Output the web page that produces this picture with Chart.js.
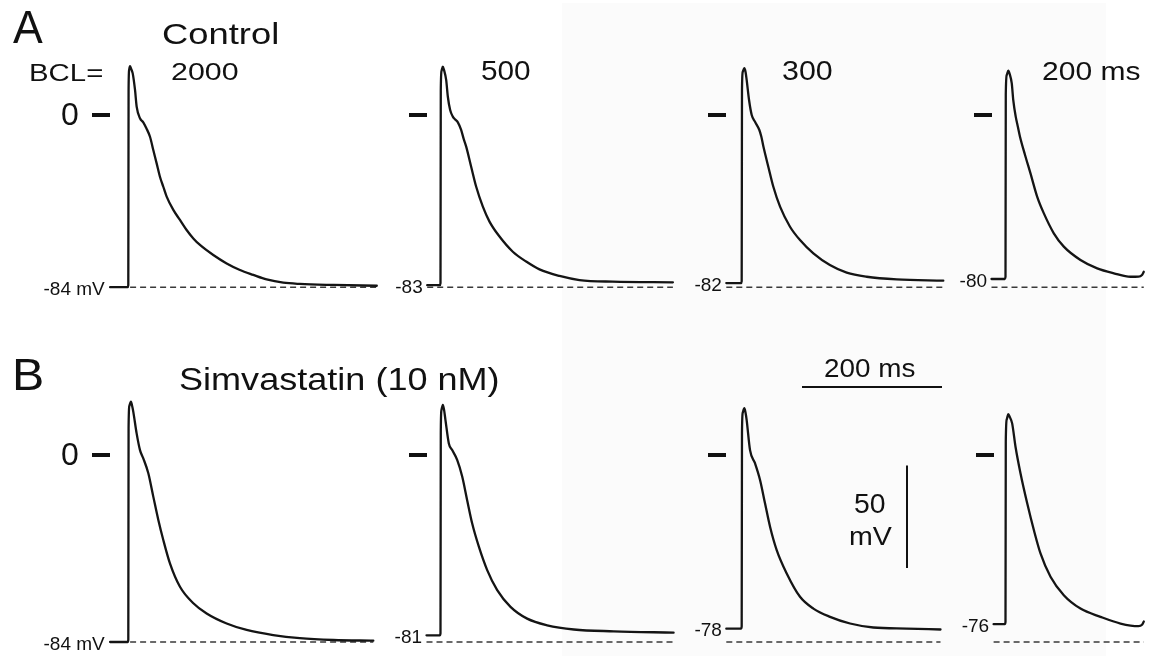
<!DOCTYPE html>
<html><head><meta charset="utf-8">
<script src="https://cdn.jsdelivr.net/npm/chart.js@4.4.1/dist/chart.umd.min.js"></script>
<style>
html,body{margin:0;padding:0;background:#fff;}
#wrap{position:relative;width:1152px;height:656px;overflow:hidden;background:#fff;font-family:"Liberation Sans",Arial,Helvetica,sans-serif;color:#111;}
#shade{position:absolute;left:562px;top:3px;width:544px;height:653px;background:#fbfbfb;}
#c{position:absolute;left:0;top:0;}
.lbl{position:absolute;white-space:nowrap;transform-origin:0 0;line-height:1;margin:0;padding:0;}
</style></head><body>
<div id="wrap"><div id="shade"></div><canvas id="c" width="1152" height="656"></canvas></div>
<script>
// ---------------- DATA (time in ms from upstroke, membrane potential in mV) ----------------
const panelLetters = ['A', 'B'];
const conditions = ['Control', 'Simvastatin (10 nM)'];
const bclPrefix = 'BCL=';
const bclLabels = ['2000', '500', '300', '200 ms'];
const restControl = [-84, -83, -82, -80];
const restSimva = [-84, -81, -78, -76];
const restUnit = ' mV';
const zeroLabel = '0';
const referenceMv = -84;
const scaleBarMs = 200;
const scaleBarMv = 50;
const scaleBarMsLabel = '200 ms';
const scaleBarMvLabel = ['50', 'mV'];

const ctrl2000 = [[-26,-84],[-1,-84],[0,-83],[0.4,12],[1.2,22],[2.4,23.8],[4,22.6],[6.3,20.3],[9.6,12.2],[12,4],[16.7,-1.6],[21.4,-3.6],[26,-6.6],[31,-10.6],[35.7,-17.1],[40.5,-23.6],[45.2,-30.1],[50,-35],[54.8,-39.8],[64.3,-46.3],[73.8,-51.2],[83.3,-56.1],[92.9,-60.2],[102.4,-63.4],[121.4,-68.3],[140.5,-72.4],[159.5,-75.6],[178.6,-78],[197.6,-80.2],[221.4,-81.8],[245,-82.4],[293,-82.9],[355,-83.3]];
const ctrl500 = [[-19,-83],[-1,-83],[0,-82],[0.4,12],[1.5,21.5],[3.3,23.6],[5,22],[8.1,17.1],[10.5,8.9],[13.8,2.4],[17.6,-0.8],[21,-2.2],[24.8,-3.6],[29.5,-7.3],[33,-11.5],[36.7,-15.4],[43.8,-25.2],[51,-35],[60.5,-44.7],[70,-52],[84.3,-59.3],[103.3,-66.7],[122.4,-71.5],[141.4,-75.3],[170,-78.5],[198.6,-80.5],[246,-81.3],[332,-81.6]];
const ctrl300 = [[-22,-82],[-1,-82],[0,-81],[0.4,12],[1.5,21],[3.8,22.8],[5.5,21],[7.1,17.1],[10.5,7.3],[14.3,0],[19,-3.3],[25.2,-7.3],[28,-10.5],[31,-15.4],[38,-25.2],[45.2,-35],[54.8,-44.7],[69,-54.5],[83.3,-61],[102.4,-67.5],[126,-73.2],[150,-76.9],[178.6,-78.9],[221.4,-80.2],[288,-80.8]];
const ctrl200 = [[-20,-80],[-1,-80],[0,-79],[0.4,10],[1.8,19.5],[4,21.6],[6,20],[8.9,15.5],[11.1,7.3],[14.6,-0.8],[17.5,-5.5],[20.7,-10.6],[27.9,-19.5],[35.7,-28.5],[45.2,-39.8],[54.8,-48],[69,-57.7],[83.3,-64.2],[107.1,-70.7],[131,-74.8],[154.8,-77.2],[178.6,-78.9],[190,-78.8],[195,-78],[197.5,-76.5]];
const simv2000 = [[-26,-84],[-1,-84],[0,-83],[0.4,12],[1.5,22],[3.8,24],[5.5,22],[7.1,19.5],[11.9,9.7],[16.7,2.2],[21.4,-1.5],[28.6,-8.2],[35.7,-18.7],[42.9,-29.2],[50,-38.2],[59.5,-48.7],[73.8,-59.2],[92.9,-66.6],[111.9,-71.2],[140.5,-75.7],[169,-78.6],[207,-80.9],[245,-82.3],[293,-83.1],[350,-83.4]];
const simv500 = [[-20,-81],[-1,-81],[0,-80],[0.4,10],[1.3,20],[3.3,22.5],[5,20.5],[7.1,15.7],[11.9,5.2],[16.7,2.2],[23.8,-2.2],[31,-9.7],[38,-20.2],[45.2,-30.7],[54.8,-41.2],[66.7,-51.7],[81,-60.7],[100,-68.2],[123.8,-73.5],[152.4,-76.5],[190.5,-78.4],[247.6,-79.2],[333,-79.8]];
const simv300 = [[-22,-78],[-1,-78],[0,-77],[0.4,10],[1.5,19],[3.8,21],[5.5,19],[7.1,15.7],[11.9,2.2],[19,-3.7],[26.2,-11.2],[33.3,-21.7],[40.5,-32.2],[50,-42.7],[64.3,-53.2],[83.3,-63.7],[102.4,-69],[126.2,-72.7],[154.8,-75.7],[188,-77.5],[235.7,-78],[284,-78.4]];
const simv200 = [[-17,-76],[-1,-76],[0,-75],[0.4,6],[1.8,16],[4,18.4],[6.2,17],[9.5,14.2],[14.3,3.7],[21.4,-8.2],[31,-21.7],[40.5,-33.7],[50,-44.2],[64.3,-54.7],[83.3,-63],[107.1,-69],[135.7,-72.7],[164.3,-75.7],[190,-76.9],[195,-76.3],[197.6,-74.8]];

const traces = [[ctrl2000, ctrl500, ctrl300, ctrl200], [simv2000, simv500, simv300, simv200]];
const rests = [restControl, restSimva];

// ---------------- LAYOUT (pixels) ----------------
const W = 1152, H = 656;
const layout = {
  msPx: 0.70,
  colZeroPx: [128.3, 440.5, 741.7, 1005.5],
  rows: [{ zeroPx: 115, mvPx: 2.05 }, { zeroPx: 455, mvPx: 2.226 }],
  hBar: { x: 802, y: 387 },
  vBar: { x: 907, y: 568 },
  barMvPx: 2.05,
  zeroTickLen: 18
};
function xScale(originPx, ppu) { return { type: 'linear', display: false, bounds: 'data', min: -originPx / ppu, max: (W - originPx) / ppu }; }
function yScale(originPx, ppu) { return { type: 'linear', display: false, bounds: 'data', min: (originPx - H) / ppu, max: originPx / ppu }; }

const scales = {};
layout.colZeroPx.forEach((px, c) => { scales['x' + c] = xScale(px, layout.msPx); });
layout.rows.forEach((row, r) => { scales['y' + r] = yScale(row.zeroPx, row.mvPx); });
scales.xh = xScale(layout.hBar.x, layout.msPx); scales.yh = yScale(layout.hBar.y, layout.barMvPx);
scales.xv = xScale(layout.vBar.x, layout.msPx); scales.yv = yScale(layout.vBar.y, layout.barMvPx);

const datasets = [];
traces.forEach((row, r) => row.forEach((tr, c) => {
  datasets.push({
    data: tr.map(([x, y]) => ({ x, y })), xAxisID: 'x' + c, yAxisID: 'y' + r,
    borderColor: '#141414', borderWidth: 2.3, pointRadius: 0, fill: false,
    cubicInterpolationMode: 'monotone', borderJoinStyle: 'round', borderCapStyle: 'round'
  });
  datasets.push({
    data: [{ x: tr[0][0], y: referenceMv }, { x: tr[tr.length - 1][0], y: referenceMv }],
    xAxisID: 'x' + c, yAxisID: 'y' + r,
    borderColor: '#3a3a3a', borderWidth: 1.5, borderDash: [6, 4], pointRadius: 0, fill: false, tension: 0
  });
}));
datasets.push({ data: [{ x: 0, y: 0 }, { x: scaleBarMs, y: 0 }], xAxisID: 'xh', yAxisID: 'yh', borderColor: '#111', borderWidth: 2, pointRadius: 0, fill: false, tension: 0 });
datasets.push({ data: [{ x: 0, y: 0 }, { x: 0, y: scaleBarMv }], xAxisID: 'xv', yAxisID: 'yv', borderColor: '#111', borderWidth: 2, pointRadius: 0, fill: false, tension: 0 });

const zeroTicks = {
  id: 'zeroTicks',
  afterDatasetsDraw(chart) {
    const ctx = chart.ctx; ctx.save(); ctx.fillStyle = '#111';
    traces.forEach((row, r) => row.forEach((tr, c) => {
      const xr = chart.scales['x' + c].getPixelForValue(tr[0][0]);
      const y = chart.scales['y' + r].getPixelForValue(0);
      ctx.fillRect(Math.round(xr - layout.zeroTickLen), Math.round(y - 2), layout.zeroTickLen, 4);
    }));
    ctx.restore();
  }
};

const chart = new Chart(document.getElementById('c'), {
  type: 'line',
  data: { datasets },
  options: {
    responsive: false, animation: false, events: [], devicePixelRatio: 1,
    layout: { padding: 0 },
    plugins: { legend: { display: false }, tooltip: { enabled: false }, title: { display: false } },
    scales
  },
  plugins: [zeroTicks]
});

// ---------------- TEXT ----------------
const wrap = document.getElementById('wrap');
const FONT = '"Liberation Sans", Arial, Helvetica, sans-serif';
const mctx = document.createElement('canvas').getContext('2d');
function addLabel(text, f, o) {
  mctx.font = f + 'px ' + FONT;
  const m = mctx.measureText(text);
  const inkW = m.actualBoundingBoxLeft + m.actualBoundingBoxRight;
  let s = 1;
  if (o.left != null && o.right != null) s = (o.right - o.left) / inkW;
  const inkLeft = o.left != null ? o.left : o.right - s * inkW;
  const div = document.createElement('div');
  div.className = 'lbl'; div.style.fontSize = f + 'px';
  div.appendChild(document.createTextNode(text));
  const mark = document.createElement('span');
  mark.style.cssText = 'display:inline-block;width:0;height:0;vertical-align:baseline;';
  div.appendChild(mark);
  wrap.appendChild(div);
  const baseOff = mark.offsetTop;
  const base = o.base != null ? o.base : o.cy + 0.716 * f / 2;
  div.style.left = (inkLeft + s * m.actualBoundingBoxLeft) + 'px';
  div.style.top = (base - baseOff) + 'px';
  if (s !== 1) div.style.transform = 'scaleX(' + s + ')';
}
function fit(text, left, right, top, base) { addLabel(text, (base - top) / 0.716, { left, right, base }); }

fit(panelLetters[0], 13, 43, 10, 43);
fit(conditions[0], 163, 277, 22, 43.5);
fit(bclPrefix, 30, 102, 63.5, 80.5);
fit(bclLabels[0], 172, 238, 63, 80);
fit(bclLabels[1], 482, 530, 60, 80);
fit(bclLabels[2], 783, 832, 60, 80);
fit(bclLabels[3], 1043, 1140, 61, 80);
fit(panelLetters[1], 15, 42, 358, 390);
fit(conditions[1], 180, 498, 368, 390);
fit(scaleBarMsLabel, 825, 915, 358, 377);
fit(scaleBarMvLabel[0], 855, 885, 493, 513);
fit(scaleBarMvLabel[1], 850, 892, 527, 545);

traces.forEach((row, r) => row.forEach((tr, c) => {
  const xs = chart.scales['x' + c], ys = chart.scales['y' + r];
  const xStart = xs.getPixelForValue(tr[0][0]);
  const rest = rests[r][c];
  addLabel(String(rest) + (c === 0 ? restUnit : ''), 19, { right: xStart - 5, cy: ys.getPixelForValue(rest) + 1 });
  if (c === 0) addLabel(zeroLabel, 32, { right: xStart - layout.zeroTickLen - 14, cy: ys.getPixelForValue(0) - 1.5 });
}));
</script>
</body></html>
